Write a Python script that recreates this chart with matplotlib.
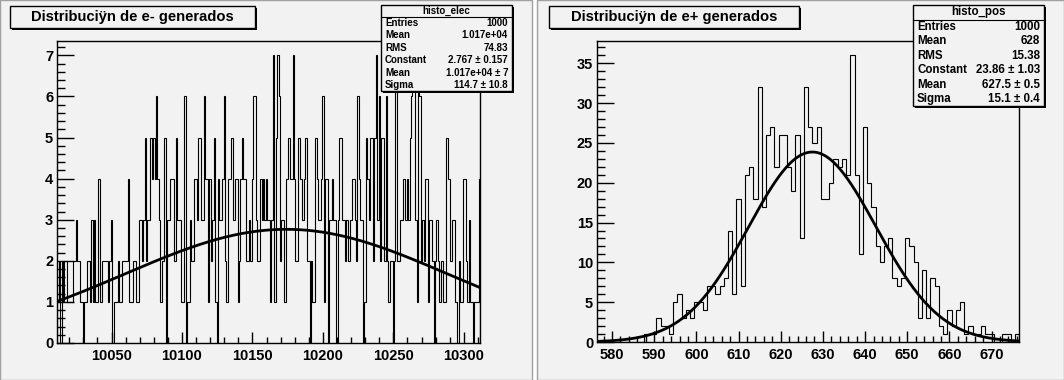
import numpy as np
import matplotlib.pyplot as plt
from matplotlib.patches import Rectangle

# histo_elec: 300 bins of width 1 between 10011.5 and 10311.5
elec_range = (10011.5, 10311.5)
elec_counts = [
    1, 2, 0, 2, 1, 2, 2, 1, 1, 1, 1, 2, 2, 3, 2, 2, 1, 1, 0, 1,
    1, 2, 2, 1, 3, 1, 3, 1, 1, 4, 1, 1, 2, 2, 2, 2, 1, 2, 3, 0,
    1, 1, 1, 2, 1, 1, 2, 2, 2, 2, 4, 1, 1, 1, 2, 2, 1, 1, 3, 3,
    2, 3, 5, 2, 3, 3, 5, 4, 5, 4, 6, 4, 3, 1, 2, 2, 5, 0, 3, 3,
    4, 4, 4, 2, 5, 3, 3, 3, 1, 1, 6, 0, 1, 1, 3, 2, 2, 4, 4, 3,
    5, 5, 3, 3, 6, 4, 4, 1, 4, 2, 3, 5, 1, 0, 4, 3, 3, 4, 6, 2,
    1, 4, 4, 5, 5, 3, 4, 4, 1, 2, 4, 5, 4, 4, 2, 2, 3, 2, 4, 6,
    6, 3, 2, 2, 4, 3, 4, 3, 4, 3, 3, 1, 3, 7, 1, 5, 7, 6, 2, 3,
    3, 1, 4, 4, 5, 4, 4, 7, 4, 2, 2, 5, 4, 4, 3, 4, 5, 2, 2, 0,
    2, 1, 1, 5, 4, 3, 3, 4, 6, 1, 4, 4, 0, 3, 3, 4, 3, 3, 0, 3,
    5, 5, 3, 3, 2, 3, 2, 2, 3, 4, 4, 3, 2, 6, 4, 3, 3, 0, 1, 5,
    4, 3, 5, 5, 2, 5, 7, 3, 6, 2, 5, 5, 2, 6, 2, 1, 2, 2, 0, 2,
    7, 2, 2, 3, 3, 4, 4, 3, 4, 3, 5, 6, 7, 7, 3, 1, 7, 6, 2, 3,
    2, 4, 4, 1, 3, 3, 2, 0, 2, 3, 2, 1, 2, 2, 1, 1, 5, 4, 4, 2,
    3, 3, 1, 1, 0, 2, 1, 1, 4, 4, 2, 1, 3, 1, 1, 0, 1, 1, 1, 4,
]
elec_fit = (2.767, 10174.0, 114.7)   # constant, mean, sigma
elec_xticks = [10050, 10100, 10150, 10200, 10250, 10300]
elec_yticks = [0, 1, 2, 3, 4, 5, 6, 7]
elec_stats = [("Entries", "1000"), ("Mean", "1.017e+04"), ("RMS", "74.83"),
              ("Constant", "2.767 \u00b1 0.157"), ("Mean", "1.017e+04 \u00b1 7"),
              ("Sigma", "114.7 \u00b1 10.8")]

# histo_pos: 100 bins of width 1 between 576.5 and 676.5
pos_range = (576.5, 676.5)
pos_counts = [
    0, 0, 0, 0, 0, 0, 0, 0, 0, 0,
    0, 1, 1, 1, 3, 2, 2, 1, 5, 6,
    3, 4, 3, 5, 5, 4, 7, 7, 6, 7,
    8, 14, 6, 18, 7, 21, 22, 18, 32, 17,
    26, 27, 22, 26, 26, 22, 19, 26, 13, 32,
    27, 25, 27, 18, 18, 20, 23, 22, 23, 21,
    36, 21, 11, 27, 20, 17, 12, 10, 12, 13,
    8, 7, 8, 13, 12, 10, 3, 9, 3, 8,
    7, 2, 1, 4, 2, 4, 5, 1, 2, 1,
    1, 2, 1, 1, 0, 0, 1, 1, 0, 1,
]
pos_fit = (23.86, 627.5, 15.1)
pos_xticks = [580, 590, 600, 610, 620, 630, 640, 650, 660, 670]
pos_yticks = [0, 5, 10, 15, 20, 25, 30, 35]
pos_stats = [("Entries", "1000"), ("Mean", "628"), ("RMS", "15.38"),
             ("Constant", "23.86 \u00b1 1.03"), ("Mean", "627.5 \u00b1 0.5"),
             ("Sigma", "15.1 \u00b1 0.4")]

W, H = 1064, 380
BG = '#f2f2f2'
plt.rcParams['font.family'] = ['Liberation Sans', 'DejaVu Sans']

fig = plt.figure(figsize=(W / 100, H / 100), dpi=100, facecolor='white')


def fx(x):
    return x / W


def fy(y):
    return 1 - y / H


def box(x0, y0, x1, y1, shadow=2.5):
    # ROOT style box with a dark shadow on the right/bottom
    fig.patches.append(Rectangle((fx(x0 + shadow), fy(y1 + shadow)), fx(x1 - x0), (y1 - y0) / H,
                                 transform=fig.transFigure, facecolor='black', edgecolor='none', zorder=10))
    fig.patches.append(Rectangle((fx(x0), fy(y1)), fx(x1 - x0), (y1 - y0) / H,
                                 transform=fig.transFigure, facecolor=BG, edgecolor='black', lw=1, zorder=11))


def stats_box(x0, y0, x1, y1, name, rows, fs, line_y):
    box(x0, y0, x1, y1, shadow=2)
    fig.text(fx((x0 + x1) / 2), fy((y0 + line_y) / 2), name, ha='center', va='center',
             fontsize=fs, fontweight='bold', zorder=12)
    fig.add_artist(plt.Line2D([fx(x0), fx(x1)], [fy(line_y), fy(line_y)], color='black', lw=0.8,
                              transform=fig.transFigure, zorder=12))
    step = (y1 - line_y) / len(rows)
    for i, (lab, val) in enumerate(rows):
        yc = line_y + step * (i + 0.5)
        fig.text(fx(x0 + 4), fy(yc), lab, ha='left', va='center', fontsize=fs, fontweight='bold', zorder=12)
        fig.text(fx(x1 - 4), fy(yc), val, ha='right', va='center', fontsize=fs, fontweight='bold', zorder=12)


def title_box(x0, y0, x1, y1, text):
    box(x0, y0, x1, y1, shadow=2)
    fig.text(fx((x0 + x1) / 2), fy((y0 + y1) / 2 + 0.5), text, ha='center', va='center',
             fontsize=10.6, fontweight='bold', zorder=12)


def draw_hist(ax, counts, rng, fit, xticks, yticks, xminor, yminor, ymax):
    edges = np.linspace(rng[0], rng[1], len(counts) + 1)
    ax.stairs(counts, edges, color='black', lw=0.8, baseline=0)
    xs = np.linspace(rng[0], rng[1], 500)
    c, m, s = fit
    ax.plot(xs, c * np.exp(-0.5 * ((xs - m) / s) ** 2), color='black', lw=2)
    ax.set_xlim(rng)
    ax.set_ylim(0, ymax * 1.05)
    ax.set_facecolor(BG)
    ax.set_xticks(xticks)
    ax.set_yticks(yticks)
    ax.set_xticks(np.arange(np.ceil(rng[0] / xminor) * xminor, rng[1], xminor), minor=True)
    ax.set_yticks(np.arange(0, ymax * 1.05, yminor), minor=True)
    ax.tick_params(axis='x', which='major', direction='in', length=8, width=1, pad=4, labelsize=10.5)
    ax.tick_params(axis='x', which='minor', direction='in', length=4, width=1)
    ax.tick_params(axis='y', which='major', direction='in', length=12, width=1, pad=3, labelsize=10.5)
    ax.tick_params(axis='y', which='minor', direction='in', length=6, width=1)
    for lab in ax.get_xticklabels() + ax.get_yticklabels():
        lab.set_fontweight('bold')
    for sp in ax.spines.values():
        sp.set_linewidth(1)


# pads, behind the axes
fig.patches.append(Rectangle((0, 0), fx(532), 1, transform=fig.transFigure,
                             facecolor=BG, edgecolor='#a0a0a0', lw=1, zorder=-5))
fig.patches.append(Rectangle((fx(537), 0), fx(W - 537), 1, transform=fig.transFigure,
                             facecolor=BG, edgecolor='#a0a0a0', lw=1, zorder=-5))

ax1 = fig.add_axes([fx(57.3), fy(343), fx(480 - 57.3), (343 - 41) / H])
draw_hist(ax1, elec_counts, elec_range, elec_fit, elec_xticks, elec_yticks, 10, 0.2, max(elec_counts))

ax2 = fig.add_axes([fx(597.3), fy(342), fx(1019 - 597.3), (342 - 41) / H])
draw_hist(ax2, pos_counts, pos_range, pos_fit, pos_xticks, pos_yticks, 2, 1, max(pos_counts))

title_box(10, 6, 255, 28, "Distribuci\u00ffn de e- generados")
title_box(549, 6, 799, 28, "Distribuci\u00ffn de e+ generados")

stats_box(381, 5, 512, 91, "histo_elec", elec_stats, 7, 17)
stats_box(913, 5, 1044, 106, "histo_pos", pos_stats, 8.3, 20)

fig.savefig('out.png', dpi=100, facecolor='white')
